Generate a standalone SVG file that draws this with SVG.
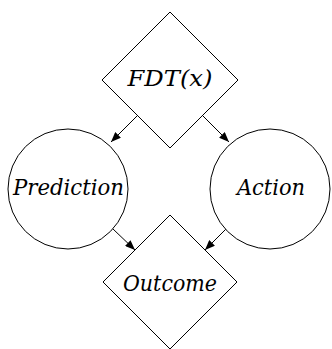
<svg xmlns="http://www.w3.org/2000/svg" width="332" height="349" viewBox="0 0 332 349">
<style>
.s{fill:#fff;stroke:#000;stroke-width:1}
.t{font-family:'DejaVu Serif',serif;font-style:italic;font-size:23px;text-anchor:middle;fill:#000}
.e{stroke:#000;stroke-width:1;fill:none;marker-end:url(#ah)}
</style>
<defs>
<marker id="ah" viewBox="0 0 10 8" refX="10" refY="4" markerWidth="10" markerHeight="8" markerUnits="userSpaceOnUse" orient="auto">
<path d="M0,0 L10,4 L0,8 Z" fill="#000"/>
</marker>
</defs>
<rect width="332" height="349" fill="#fff"/>
<g id="edges">
<line class="e" x1="137" y1="116" x2="111" y2="142"/>
<line class="e" x1="203" y1="116" x2="229" y2="142"/>
<line class="e" x1="113" y1="229" x2="135" y2="250"/>
<line class="e" x1="226" y1="229" x2="205" y2="250"/>
</g>
<g id="fdt">
<polygon class="s" points="170,12 238,80 170,148 102,80"/>
<text class="t" x="170" y="86" textLength="85" lengthAdjust="spacingAndGlyphs">FDT(x)</text>
</g>
<g id="prediction">
<circle class="s" cx="68" cy="189" r="60"/>
<text class="t" x="68.5" y="195" textLength="111" lengthAdjust="spacingAndGlyphs">Prediction</text>
</g>
<g id="action">
<circle class="s" cx="270" cy="189" r="60"/>
<text class="t" x="271" y="195" textLength="68" lengthAdjust="spacingAndGlyphs">Action</text>
</g>
<g id="outcome">
<polygon class="s" points="170,215 237,282 170,349 103,282"/>
<text class="t" x="170" y="291" textLength="94" lengthAdjust="spacingAndGlyphs">Outcome</text>
</g>
</svg>
